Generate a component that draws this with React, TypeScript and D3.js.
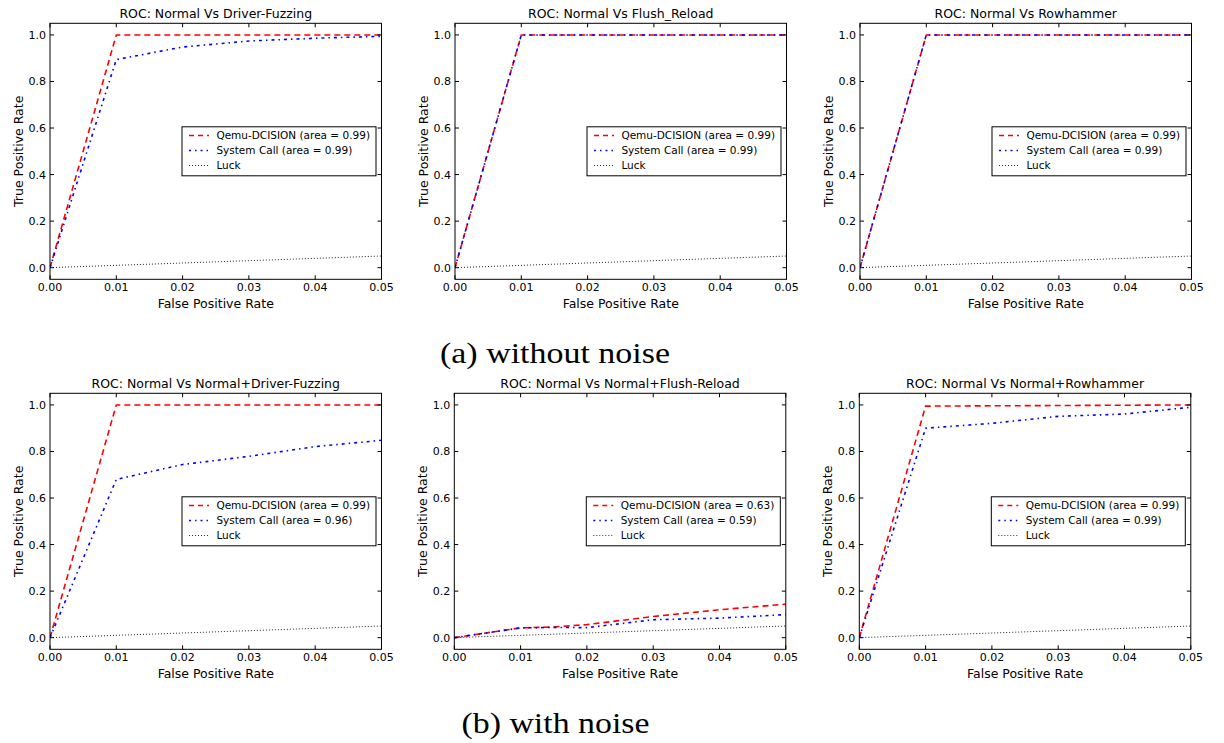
import * as d3 from "d3";

// panel titles, in reading order
const titles = [
  "ROC: Normal Vs Driver-Fuzzing",
  "ROC: Normal Vs Flush_Reload",
  "ROC: Normal Vs Rowhammer",
  "ROC: Normal Vs Normal+Driver-Fuzzing",
  "ROC: Normal Vs Normal+Flush-Reload",
  "ROC: Normal Vs Normal+Rowhammer",
];

const qemuAreas = ["0.99", "0.99", "0.99", "0.99", "0.63", "0.99"];
const syscallAreas = ["0.99", "0.99", "0.99", "0.96", "0.59", "0.99"];

// [fpr, tpr] points
const qemuCurves: [number, number][][] = [
  [[0, 0], [0.01, 1], [0.05, 1]],
  [[0, 0], [0.01, 1], [0.05, 1]],
  [[0, 0], [0.01, 1], [0.05, 1]],
  [[0, 0], [0.01, 1], [0.05, 1]],
  [[0, 0], [0.01, 0.042], [0.015, 0.046], [0.02, 0.056], [0.03, 0.091], [0.04, 0.12], [0.05, 0.144]],
  [[0, 0], [0.01, 0.995], [0.05, 1]],
];

const syscallCurves: [number, number][][] = [
  [[0, 0], [0.01, 0.894], [0.02, 0.948], [0.03, 0.974], [0.04, 0.986], [0.05, 0.994]],
  [[0, 0], [0.01, 1], [0.05, 1]],
  [[0, 0], [0.01, 1], [0.05, 1]],
  [[0, 0], [0.01, 0.68], [0.02, 0.744], [0.03, 0.779], [0.04, 0.821], [0.05, 0.848]],
  [[0, 0], [0.01, 0.042], [0.015, 0.044], [0.02, 0.043], [0.03, 0.077], [0.04, 0.084], [0.05, 0.099]],
  [[0, 0], [0.01, 0.9], [0.02, 0.921], [0.03, 0.951], [0.04, 0.961], [0.05, 0.99]],
];

const luckCurve: [number, number][] = [[0, 0], [1, 1]];

const xTicks = [0, 0.01, 0.02, 0.03, 0.04, 0.05];
const yTicks = [0, 0.2, 0.4, 0.6, 0.8, 1.0];
const xDomain = [0, 0.05];
const yDomain = [-0.05, 1.05];

const captions = ["(a) without noise", "(b) with noise"];

// layout
const W = 331.5;
const H = 256;
const panelLefts = [50, 455, 860, 50, 454.3, 859.3];
const panelTops = [23.3, 23.3, 23.3, 393.3, 393.3, 393.3];
const FONT = "DejaVu Sans, Bitstream Vera Sans, sans-serif";

function Panel({ i }: { i: number }) {
  const left = panelLefts[i];
  const top = panelTops[i];
  const x = d3.scaleLinear().domain(xDomain).range([left, left + W]);
  const y = d3.scaleLinear().domain(yDomain).range([top + H, top]);
  const line = d3
    .line<[number, number]>()
    .x((d) => x(d[0]))
    .y((d) => y(d[1]));
  const clipId = `clip${i}`;

  const lgW = 194;
  const lgH = 49;
  const lgX = left + W - 5.5 - lgW;
  const lgY = top + H / 2 - lgH / 2;
  const entries = [
    { label: `Qemu-DCISION (area = ${qemuAreas[i]})`, color: "#ff0000", dash: "5,4", w: 1.6 },
    { label: `System Call (area = ${syscallAreas[i]})`, color: "#0000ff", dash: "2,4,1.5,4", w: 1.6 },
    { label: "Luck", color: "#333", dash: "1,2", w: 1 },
  ];

  return (
    <g fontFamily={FONT}>
      <defs>
        <clipPath id={clipId}>
          <rect x={left} y={top} width={W} height={H} />
        </clipPath>
      </defs>
      <g clipPath={`url(#${clipId})`} fill="none" strokeWidth={1.6}>
        <path d={line(luckCurve) || ""} stroke="#222" strokeDasharray="1,2" strokeWidth={1} />
        <path d={line(qemuCurves[i]) || ""} stroke="#ff0000" strokeDasharray="6,4" />
        <path d={line(syscallCurves[i]) || ""} stroke="#0000ff" strokeDasharray="3,4,1.5,4" />
      </g>
      <rect x={left} y={top} width={W} height={H} fill="none" stroke="#000" strokeWidth={1} />
      {xTicks.map((t) => (
        <g key={`x${t}`}>
          <line x1={x(t)} x2={x(t)} y1={top + H} y2={top + H - 4} stroke="#000" />
          <line x1={x(t)} x2={x(t)} y1={top} y2={top + 4} stroke="#000" />
          <text x={x(t)} y={top + H + 12} textAnchor="middle" fontSize={11}>
            {d3.format(".2f")(t)}
          </text>
        </g>
      ))}
      {yTicks.map((t) => (
        <g key={`y${t}`}>
          <line x1={left} x2={left + 4} y1={y(t)} y2={y(t)} stroke="#000" />
          <line x1={left + W} x2={left + W - 4} y1={y(t)} y2={y(t)} stroke="#000" />
          <text x={left - 4} y={y(t) + 4} textAnchor="end" fontSize={11}>
            {d3.format(".1f")(t)}
          </text>
        </g>
      ))}
      <text x={left + W / 2} y={top - 5} textAnchor="middle" fontSize={12.5}>
        {titles[i]}
      </text>
      <text x={left + W / 2} y={top + H + 29} textAnchor="middle" fontSize={12.5}>
        False Positive Rate
      </text>
      <text
        transform={`translate(${left - 27},${top + H / 2}) rotate(-90)`}
        textAnchor="middle"
        fontSize={12.5}
      >
        True Positive Rate
      </text>
      <rect x={lgX} y={lgY} width={lgW} height={lgH} fill="#fff" stroke="#000" strokeWidth={1} />
      {entries.map((e, k) => {
        const cy = lgY + 8.7 + k * 15;
        return (
          <g key={k}>
            <line
              x1={lgX + 7}
              x2={lgX + 27}
              y1={cy}
              y2={cy}
              stroke={e.color}
              strokeDasharray={e.dash}
              strokeWidth={e.w}
            />
            <text x={lgX + 34.4} y={cy + 3.8} fontSize={10.5}>
              {e.label}
            </text>
          </g>
        );
      })}
    </g>
  );
}

export default function App() {
  return (
    <svg
      width={1224}
      height={743}
      style={{ position: "absolute", left: 0, top: 0, background: "#fff" }}
    >
      <rect width={1224} height={743} fill="#fff" />
      {titles.map((_, i) => (
        <Panel key={i} i={i} />
      ))}
      <text
        x={555}
        y={363.3}
        textAnchor="middle"
        fontFamily="Liberation Serif, serif"
        fontSize={29}
        textLength={230}
        lengthAdjust="spacingAndGlyphs"
      >
        {captions[0]}
      </text>
      <text
        x={555.5}
        y={733.3}
        textAnchor="middle"
        fontFamily="Liberation Serif, serif"
        fontSize={29}
        textLength={188}
        lengthAdjust="spacingAndGlyphs"
      >
        {captions[1]}
      </text>
    </svg>
  );
}
